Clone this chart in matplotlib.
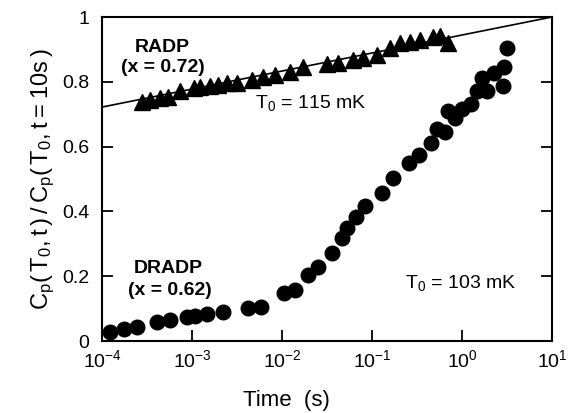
import matplotlib
matplotlib.use("Agg")
import matplotlib.pyplot as plt
from matplotlib.ticker import FixedLocator, FuncFormatter, NullLocator
import numpy as np

plt.rcParams['font.family'] = ['Liberation Sans', 'DejaVu Sans']
plt.rcParams['mathtext.default'] = 'regular'

# RADP (x = 0.72), T0 = 115 mK  -- triangles
radp_t = [2.76e-4, 3.41e-4, 4.41e-4, 5.46e-4, 7.36e-4, 1.04e-3, 1.23e-3, 1.58e-3,
          1.96e-3, 2.43e-3, 3.13e-3, 4.60e-3, 6.21e-3, 8.36e-3, 1.23e-2, 1.73e-2,
          3.13e-2, 4.23e-2, 6.21e-2, 8.02e-2, 0.113, 0.158, 0.205, 0.264, 0.341,
          0.480, 0.570, 0.705]
radp_c = [0.739, 0.744, 0.749, 0.754, 0.773, 0.780, 0.785, 0.787,
          0.790, 0.795, 0.797, 0.806, 0.814, 0.821, 0.831, 0.847,
          0.855, 0.859, 0.867, 0.872, 0.883, 0.903, 0.919, 0.924, 0.929,
          0.939, 0.941, 0.921]

# straight line through RADP data
fit_t = [1e-4, 1e1]
fit_c = [0.722, 1.0]

# DRADP (x = 0.62), T0 = 103 mK  -- circles
dradp_t = [1.23e-4, 1.75e-4, 2.43e-4, 4.06e-4, 5.70e-4, 8.87e-4, 1.08e-3, 1.48e-3,
           2.23e-3, 4.23e-3, 5.79e-3, 1.05e-2, 1.39e-2, 1.96e-2, 2.53e-2, 3.56e-2,
           4.60e-2, 5.32e-2, 6.64e-2, 8.36e-2, 0.128, 0.173, 0.258, 0.336, 0.449,
           0.532, 0.647, 0.705, 0.836, 0.993, 1.25, 1.46, 1.66, 1.91, 2.27, 2.93,
           2.88, 3.14]
dradp_c = [0.029, 0.036, 0.044, 0.060, 0.065, 0.073, 0.077, 0.083,
           0.088, 0.101, 0.106, 0.147, 0.157, 0.204, 0.227, 0.271,
           0.317, 0.348, 0.384, 0.417, 0.456, 0.503, 0.549, 0.575, 0.612,
           0.653, 0.646, 0.711, 0.687, 0.715, 0.731, 0.773, 0.811, 0.772, 0.828, 0.847,
           0.787, 0.905]

x_ticks = [1e-4, 1e-3, 1e-2, 1e-1, 1e0, 1e1]
y_ticks = [0, 0.2, 0.4, 0.6, 0.8, 1.0]
y_labels = ['0', '0.2', '0.4', '0.6', '0.8', '1']

fig = plt.figure(figsize=(5.69, 4.13), dpi=100)
ax = fig.add_axes([102/569, 1-341/413, 450/569, 324/413])

ax.plot(fit_t, fit_c, color='black', lw=1.2, zorder=2)
ax.plot(radp_t, radp_c, linestyle='none', marker='^', markersize=11,
        color='black', zorder=3, clip_on=False)
ax.plot(dradp_t, dradp_c, linestyle='none', marker='o', markersize=10.5,
        color='black', zorder=3, clip_on=False)

ax.set_xscale('log')
ax.set_xlim(1e-4, 1e1)
ax.set_ylim(0, 1)

ax.xaxis.set_major_locator(FixedLocator(x_ticks))
ax.xaxis.set_minor_locator(NullLocator())
ax.xaxis.set_major_formatter(FuncFormatter(
    lambda v, p: r'$10^{%d}$' % int(round(np.log10(v)))))
ax.set_yticks(y_ticks)
ax.set_yticklabels(y_labels)

ax.tick_params(axis='x', which='major', direction='in', length=8, width=1.3,
               top=False, bottom=True, labelsize=14, pad=6)
ax.tick_params(axis='y', which='major', direction='in', length=8, width=1.3,
               left=True, right=True, labelsize=14, pad=9)
for s in ax.spines.values():
    s.set_linewidth(1.5)

ax.set_xlabel('Time  (s)', fontsize=16, labelpad=10)
ax.xaxis.set_label_coords(0.41, -0.15)
ax.set_ylabel(r'$C_p(\,T_0,t\,)\,/\,C_p(\,T_0,t=10s\,)$', fontsize=17, labelpad=4)

ax.text(0.133, 0.907, 'RADP', transform=ax.transAxes, ha='center', va='center',
        fontsize=14, fontweight='bold')
ax.text(0.135, 0.843, '(x = 0.72)', transform=ax.transAxes, ha='center', va='center',
        fontsize=14, fontweight='bold')
ax.text(0.34, 0.735, r'$T_0$ = 115 mK', transform=ax.transAxes, ha='left', va='center',
        fontsize=14)
ax.text(0.147, 0.225, 'DRADP', transform=ax.transAxes, ha='center', va='center',
        fontsize=14, fontweight='bold')
ax.text(0.151, 0.157, '(x = 0.62)', transform=ax.transAxes, ha='center', va='center',
        fontsize=14, fontweight='bold')
ax.text(0.673, 0.179, r'$T_0$ = 103 mK', transform=ax.transAxes, ha='left', va='center',
        fontsize=14)

fig.savefig('out.png', dpi=100)
